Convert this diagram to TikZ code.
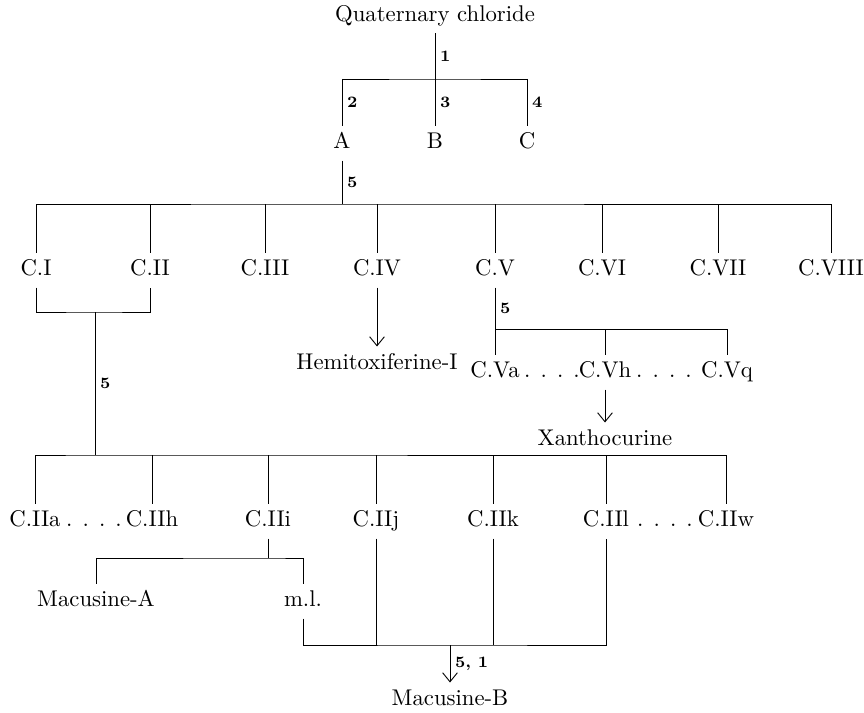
\documentclass[tikz,border=0pt]{standalone}
\usepackage{tikz}
\usetikzlibrary{arrows.meta}
\tikzstyle{cmpd}=[inner xsep=1pt,inner ysep=3pt,text height=7pt,text depth=2pt]
\tikzstyle{num}=[font=\scriptsize\bfseries,inner sep=2pt]
\tikzstyle{every path}=[line width=0.4pt]

\begin{document}
\begin{tikzpicture}[x=0.44pt,y=-0.44pt,auto,>={Straight Barb[length=4pt,width=6.5pt]}]
  \useasboundingbox (0,0) rectangle (864,712);
  \node[cmpd] (qc) at (435,16) {Quaternary chloride};
  \node[cmpd] (A) at (342,143) {A};
  \node[cmpd] (B) at (435,143) {B};
  \node[cmpd] (C) at (527,143) {C};
  \coordinate (b1) at (435,79);

  \node[cmpd] (cI) at (36,270) {C.I};
  \node[cmpd] (cII) at (150,270) {C.II};
  \node[cmpd] (cIII) at (265,270) {C.III};
  \node[cmpd] (cIV) at (377,270) {C.IV};
  \node[cmpd] (cV) at (495,270) {C.V};
  \node[cmpd] (cVI) at (602,270) {C.VI};
  \node[cmpd] (cVII) at (718,270) {C.VII};
  \node[cmpd] (cVIII) at (831,270) {C.VIII};
  \coordinate (b2) at (342,204);

  \node[cmpd] (hemi) at (377,364) {Hemitoxiferine-I};
  \node[cmpd] (cVa) at (495,372) {C.Va};
  \node[cmpd] (dVa) at (552,372) {. . . .};
  \node[cmpd] (cVh) at (605,372) {C.Vh};
  \node[cmpd] (dVh) at (664,372) {. . . .};
  \node[cmpd] (cVq) at (727,372) {C.Vq};
  \coordinate (b5) at (495,329);
  \node[cmpd] (xan) at (605,440) {Xanthocurine};

  \coordinate (b3) at (95,312);
  \coordinate (b4) at (95,455);
  \node[cmpd] (cIIa) at (35,521) {C.IIa};
  \node[cmpd] (dIIa) at (94,521) {. . . .};
  \node[cmpd] (cIIh) at (152,521) {C.IIh};
  \node[cmpd] (cIIi) at (268,521) {C.IIi};
  \node[cmpd] (cIIj) at (376,521) {C.IIj};
  \node[cmpd] (cIIk) at (493,521) {C.IIk};
  \node[cmpd] (cIIl) at (606,521) {C.IIl};
  \node[cmpd] (dIIl) at (665,521) {. . . .};
  \node[cmpd] (cIIw) at (726,521) {C.IIw};

  \coordinate (b6) at (268,558);
  \node[cmpd] (macA) at (96,601) {Macusine-A};
  \node[cmpd] (ml) at (303,601) {m.l.};
  \coordinate (b7) at (450,645);
  \node[cmpd] (macB) at (450,700) {Macusine-B};

  \draw (qc) -- node[num] {1} (b1);
  \draw (A) |- (b1) -| (C);
  \draw (b1 -| A) -- node[num] {2} (A);
  \draw (b1) -- node[num] {3} (B);
  \draw (b1 -| C) -- node[num] {4} (C);

  \draw (A) -- node[num] {5} (b2);
  \draw (cI) |- (b2) -| (cVIII);
  \foreach \n in {cII,cIII,cIV,cV,cVI,cVII}
    \draw (\n) -- (\n |- b2);

  \draw (cI) |- (b3) -| (cII);
  \draw[->] (cIV) -- (hemi);
  \draw (cV) -- node[num] {5} (b5);
  \draw (cVa) |- (b5) -| (cVq);
  \draw (cVh) -- (cVh |- b5);
  \draw[->] (cVh) -- (xan);

  \draw (b3) -- node[num] {5} (b4);
  \draw (cIIa) |- (b4) -| (cIIw);
  \foreach \n in {cIIh,cIIi,cIIj,cIIk,cIIl}
    \draw (\n) -- (\n |- b4);

  \draw (cIIi) -- (b6);
  \draw (macA) |- (b6) -| (ml);
  \draw (ml) |- (b7) -| (cIIl);
  \draw (cIIj) -- (cIIj |- b7);
  \draw (cIIk) -- (cIIk |- b7);
  \draw[->] (b7) -- node[num] {5, 1} (macB);
\end{tikzpicture}
\end{document}
